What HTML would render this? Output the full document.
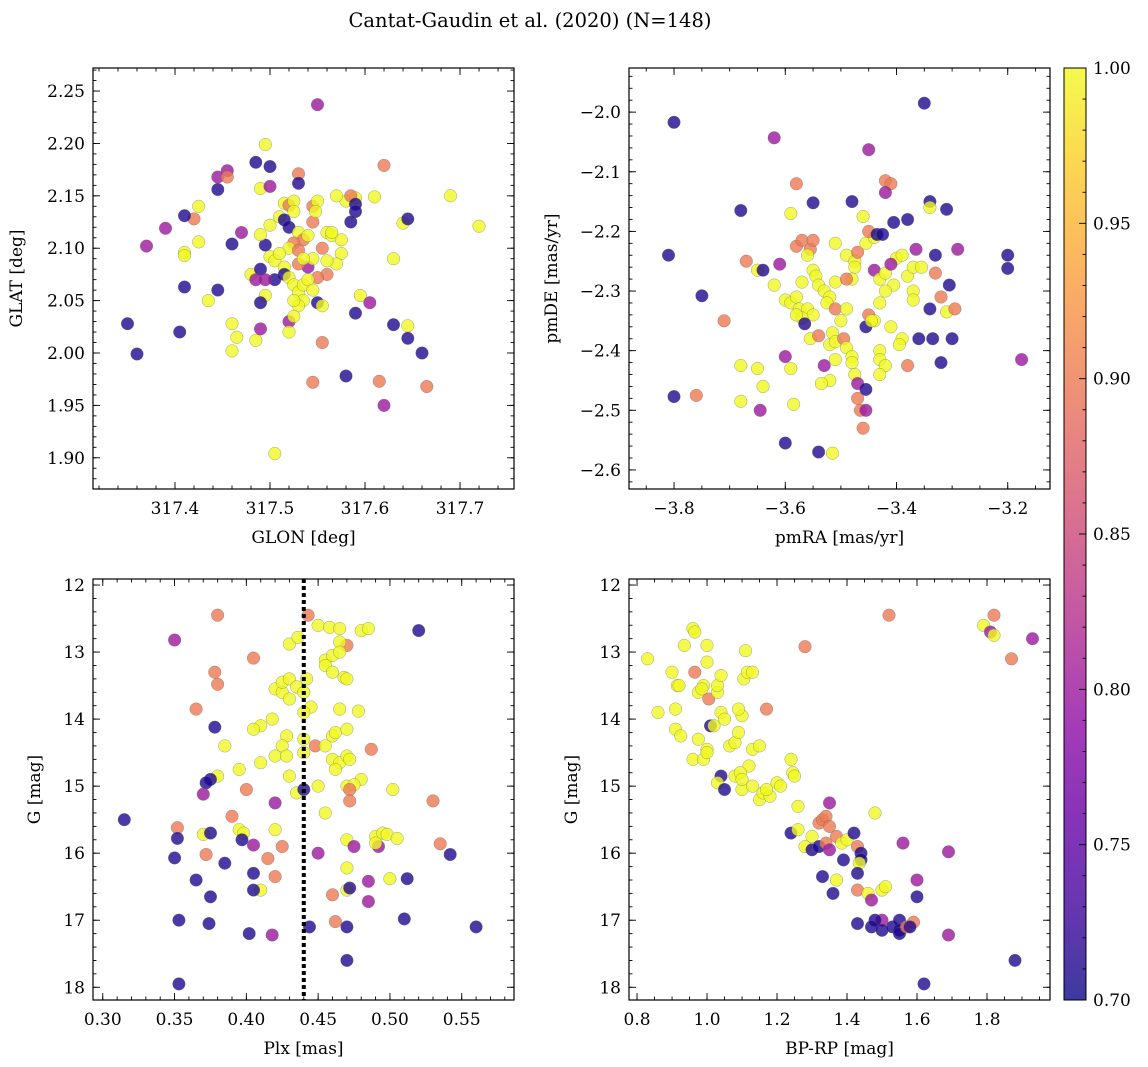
<!DOCTYPE html>
<html><head><meta charset="utf-8">
<style>
html,body{margin:0;padding:0;background:#fff;}
svg{display:block;font-family:"DejaVu Serif","Liberation Serif",serif;}
</style></head>
<body>
<svg id="fig" xmlns="http://www.w3.org/2000/svg" width="1148" height="1067" viewBox="0 0 1148 1067">
<text x="530" y="27" text-anchor="middle" font-size="19.5">Cantat-Gaudin et al. (2020) (N=148)</text>
</svg>
<script>
// ---- data: [x, y, membership probability] ----
const glonGlat = [
[317.55,2.237,0.80],[317.495,2.199,1.00],[317.485,2.182,0.71],[317.50,2.178,0.71],[317.455,2.174,0.80],[317.445,2.168,0.80],[317.455,2.168,0.90],
[317.62,2.179,0.90],[317.53,2.171,0.90],[317.49,2.157,1.00],[317.50,2.159,0.80],[317.445,2.156,0.71],[317.53,2.162,0.71],
[317.425,2.140,1.00],[317.42,2.128,0.90],[317.41,2.131,0.71],[317.39,2.119,0.80],[317.37,2.102,0.80],[317.41,2.096,1.00],[317.41,2.093,1.00],[317.425,2.106,1.00],
[317.46,2.104,0.71],[317.47,2.115,0.80],[317.48,2.075,1.00],[317.49,2.080,0.71],[317.495,2.103,0.71],[317.49,2.113,1.00],[317.50,2.122,1.00],[317.51,2.130,1.00],
[317.515,2.143,1.00],[317.52,2.141,0.90],[317.525,2.145,1.00],[317.525,2.135,1.00],[317.515,2.127,0.71],[317.52,2.120,0.71],[317.53,2.115,1.00],[317.535,2.108,0.90],
[317.525,2.105,0.90],[317.52,2.100,1.00],[317.53,2.098,0.90],[317.54,2.112,1.00],[317.545,2.125,0.90],[317.545,2.140,0.90],[317.55,2.145,1.00],[317.548,2.135,1.00],
[317.555,2.100,0.90],[317.56,2.115,1.00],[317.565,2.112,1.00],[317.575,2.108,1.00],[317.575,2.095,1.00],[317.57,2.085,1.00],[317.56,2.088,1.00],[317.56,2.075,0.90],[317.55,2.072,0.90],
[317.50,2.092,1.00],[317.505,2.088,1.00],[317.51,2.095,1.00],[317.515,2.082,1.00],[317.515,2.075,0.71],[317.52,2.072,1.00],[317.525,2.065,1.00],[317.53,2.058,1.00],
[317.535,2.065,1.00],[317.54,2.070,1.00],[317.545,2.060,1.00],[317.535,2.050,1.00],[317.53,2.045,1.00],[317.525,2.050,1.00],[317.55,2.048,0.71],[317.54,2.082,0.80],
[317.545,2.090,1.00],[317.53,2.085,0.90],[317.535,2.090,1.00],[317.505,2.070,0.71],[317.495,2.070,0.80],[317.495,2.055,1.00],[317.49,2.048,0.71],[317.485,2.070,0.80],
[317.58,2.145,1.00],[317.59,2.148,1.00],[317.585,2.150,0.90],[317.59,2.142,0.71],[317.59,2.135,0.71],[317.585,2.125,0.71],[317.57,2.150,1.00],[317.565,2.115,1.00],
[317.61,2.149,1.00],[317.64,2.124,1.00],[317.645,2.128,0.71],[317.69,2.150,1.00],[317.72,2.121,1.00],[317.63,2.090,1.00],[317.595,2.055,1.00],[317.605,2.048,0.80],
[317.59,2.038,0.71],[317.555,2.045,1.00],[317.435,2.050,1.00],[317.445,2.060,0.71],[317.41,2.063,0.71],[317.405,2.020,0.71],[317.35,2.028,0.71],[317.36,1.999,0.71],
[317.46,2.028,1.00],[317.46,2.002,1.00],[317.465,2.015,1.00],[317.485,2.012,1.00],[317.49,2.023,0.80],[317.52,2.030,0.80],[317.525,2.035,1.00],[317.52,2.020,1.00],
[317.555,2.010,0.90],[317.63,2.027,0.71],[317.645,2.026,1.00],[317.645,2.014,0.71],[317.66,2.000,0.71],[317.58,1.978,0.71],[317.545,1.972,0.90],[317.615,1.973,0.90],
[317.665,1.968,0.90],[317.62,1.950,0.80],[317.505,1.904,1.00]
];
const pmraPmde = [
[-3.35,-1.985,0.71],[-3.80,-2.017,0.71],[-3.62,-2.043,0.80],[-3.45,-2.063,0.80],[-3.58,-2.12,0.90],[-3.55,-2.152,0.71],[-3.42,-2.115,0.90],[-3.41,-2.12,0.90],
[-3.42,-2.135,0.80],[-3.34,-2.15,0.71],[-3.34,-2.16,1.00],[-3.31,-2.163,0.71],[-3.48,-2.15,0.71],[-3.46,-2.175,1.00],[-3.68,-2.165,0.71],[-3.59,-2.17,1.00],
[-3.405,-2.185,0.71],[-3.38,-2.18,0.71],[-3.81,-2.24,0.71],[-3.75,-2.308,0.71],[-3.80,-2.477,0.71],[-3.76,-2.475,0.90],[-3.71,-2.35,0.90],[-3.67,-2.25,0.90],
[-3.65,-2.265,1.00],[-3.64,-2.265,0.71],[-3.61,-2.255,0.80],[-3.62,-2.29,1.00],[-3.60,-2.315,1.00],[-3.59,-2.32,1.00],[-3.58,-2.225,0.90],[-3.57,-2.215,0.90],
[-3.555,-2.23,0.90],[-3.55,-2.215,0.90],[-3.56,-2.24,1.00],[-3.55,-2.265,1.00],[-3.545,-2.275,1.00],[-3.54,-2.29,1.00],[-3.57,-2.285,1.00],[-3.58,-2.31,1.00],
[-3.575,-2.33,1.00],[-3.56,-2.33,1.00],[-3.55,-2.34,1.00],[-3.57,-2.345,1.00],[-3.58,-2.34,1.00],[-3.565,-2.355,0.71],[-3.555,-2.38,1.00],[-3.53,-2.30,1.00],
[-3.52,-2.31,1.00],[-3.51,-2.285,1.00],[-3.525,-2.32,1.00],[-3.54,-2.375,0.90],[-3.51,-2.33,0.90],[-3.49,-2.33,1.00],[-3.50,-2.35,1.00],[-3.515,-2.37,1.00],
[-3.52,-2.39,1.00],[-3.51,-2.385,1.00],[-3.495,-2.38,0.90],[-3.49,-2.395,1.00],[-3.48,-2.41,1.00],[-3.48,-2.42,1.00],[-3.475,-2.44,1.00],[-3.47,-2.455,0.80],
[-3.47,-2.48,0.90],[-3.465,-2.50,0.90],[-3.46,-2.53,0.90],[-3.51,-2.415,1.00],[-3.52,-2.45,1.00],[-3.535,-2.455,1.00],[-3.51,-2.22,1.00],[-3.49,-2.24,1.00],
[-3.475,-2.25,1.00],[-3.47,-2.235,0.90],[-3.455,-2.22,1.00],[-3.44,-2.21,1.00],[-3.45,-2.20,0.90],[-3.435,-2.205,0.71],[-3.425,-2.205,0.71],[-3.475,-2.26,1.00],
[-3.48,-2.28,1.00],[-3.49,-2.28,0.90],[-3.44,-2.265,0.80],[-3.43,-2.28,1.00],[-3.42,-2.27,1.00],[-3.40,-2.245,1.00],[-3.39,-2.24,1.00],[-3.41,-2.255,0.80],
[-3.405,-2.29,1.00],[-3.42,-2.30,1.00],[-3.43,-2.32,1.00],[-3.45,-2.34,0.90],[-3.44,-2.35,1.00],[-3.455,-2.36,0.71],[-3.445,-2.35,1.00],[-3.41,-2.36,1.00],
[-3.43,-2.40,1.00],[-3.43,-2.415,1.00],[-3.42,-2.425,1.00],[-3.43,-2.44,1.00],[-3.455,-2.465,0.71],[-3.455,-2.50,0.80],[-3.38,-2.275,1.00],[-3.37,-2.30,1.00],
[-3.37,-2.26,1.00],[-3.355,-2.26,1.00],[-3.365,-2.23,0.80],[-3.37,-2.315,1.00],[-3.39,-2.38,1.00],[-3.395,-2.39,1.00],[-3.36,-2.38,0.71],[-3.335,-2.38,0.71],
[-3.38,-2.425,0.90],[-3.34,-2.33,0.71],[-3.33,-2.27,0.90],[-3.32,-2.31,0.90],[-3.31,-2.335,1.00],[-3.305,-2.29,0.71],[-3.29,-2.23,0.80],[-3.295,-2.33,0.90],
[-3.33,-2.24,0.71],[-3.32,-2.42,0.71],[-3.30,-2.38,0.71],[-3.20,-2.24,0.71],[-3.20,-2.262,0.71],[-3.175,-2.415,0.80],[-3.68,-2.425,1.00],[-3.68,-2.485,1.00],
[-3.65,-2.43,1.00],[-3.64,-2.46,1.00],[-3.645,-2.50,0.80],[-3.60,-2.41,0.80],[-3.59,-2.43,1.00],[-3.585,-2.49,1.00],[-3.60,-2.555,0.71],[-3.54,-2.57,0.71],
[-3.515,-2.572,1.00],[-3.53,-2.425,0.80]
];
const plxG = [
[0.38,12.45,0.90],[0.35,12.82,0.80],[0.443,12.45,0.90],[0.45,12.6,1.00],[0.458,12.63,1.00],[0.465,12.65,1.00],[0.48,12.68,1.00],[0.485,12.65,1.00],[0.52,12.68,0.71],
[0.47,12.9,0.90],[0.465,12.85,1.00],[0.43,12.88,1.00],[0.436,12.78,1.00],[0.405,13.09,0.90],
[0.365,13.85,0.90],[0.378,13.3,0.90],[0.38,13.48,0.90],[0.42,13.55,1.00],[0.425,13.6,1.00],[0.425,13.45,1.00],[0.43,13.4,1.00],[0.435,13.52,1.00],[0.44,13.6,1.00],
[0.442,13.4,1.00],[0.455,13.12,1.00],[0.455,13.2,1.00],[0.46,13.3,1.00],[0.46,13.05,1.00],[0.465,13.0,1.00],[0.468,13.38,1.00],[0.47,13.4,1.00],[0.445,13.82,1.00],
[0.465,13.85,1.00],[0.43,13.7,1.00],[0.418,14.0,1.00],[0.41,14.1,1.00],[0.405,14.15,1.00],[0.378,14.12,0.71],[0.44,13.9,1.00],[0.44,14.3,1.00],
[0.428,14.25,1.00],[0.425,14.4,1.00],[0.42,14.55,1.00],[0.428,14.55,1.00],[0.44,14.5,1.00],[0.448,14.4,0.90],[0.455,14.4,1.00],[0.46,14.25,1.00],[0.462,14.2,1.00],
[0.47,14.15,1.00],[0.478,13.88,1.00],[0.385,14.4,1.00],[0.395,14.75,1.00],[0.41,14.65,1.00],[0.43,14.85,1.00],[0.45,15.0,1.00],[0.46,14.6,1.00],[0.465,14.65,1.00],
[0.462,14.75,1.00],[0.47,14.55,1.00],[0.472,14.6,1.00],[0.48,14.9,1.00],[0.47,15.0,1.00],[0.475,14.98,1.00],[0.472,15.05,0.90],[0.487,14.45,0.90],[0.38,14.85,1.00],
[0.375,14.9,0.71],[0.372,14.95,0.71],[0.37,15.12,0.80],[0.40,15.05,0.90],[0.42,15.25,0.80],[0.435,15.1,1.00],[0.44,15.05,0.71],[0.455,15.4,1.00],[0.472,15.22,0.90],
[0.502,15.05,1.00],[0.53,15.22,0.90],[0.352,15.62,0.90],[0.315,15.5,0.71],[0.352,15.78,0.71],[0.37,15.72,1.00],[0.372,16.02,0.90],[0.375,15.7,0.71],[0.39,15.45,0.90],
[0.395,15.65,1.00],[0.398,15.7,1.00],[0.397,15.8,0.71],[0.405,15.88,0.80],[0.42,15.65,1.00],[0.425,15.9,0.90],[0.415,16.08,0.90],[0.385,16.15,0.71],
[0.365,16.4,0.71],[0.35,16.07,0.71],[0.45,16.0,0.80],[0.47,15.8,1.00],[0.475,15.9,0.80],[0.49,15.75,1.00],[0.492,15.9,0.80],[0.495,15.7,1.00],[0.49,15.85,1.00],
[0.498,15.72,1.00],[0.505,15.78,1.00],[0.535,15.86,0.90],[0.542,16.02,0.71],[0.47,16.22,1.00],[0.485,16.42,0.80],[0.47,16.55,1.00],[0.46,16.62,0.90],
[0.485,16.72,0.80],[0.50,16.38,1.00],[0.512,16.38,0.71],[0.472,16.52,0.71],[0.41,16.55,1.00],[0.405,16.55,0.71],[0.405,16.3,0.71],[0.42,16.35,0.90],[0.375,16.65,0.71],
[0.353,17.0,0.71],[0.374,17.05,0.71],[0.402,17.2,0.71],[0.418,17.22,0.80],[0.444,17.1,0.71],[0.462,17.02,0.90],[0.47,17.1,0.71],[0.51,16.98,0.71],[0.56,17.1,0.71],
[0.47,17.6,0.71],[0.353,17.95,0.71]
];
const bprpG = [
[0.83,13.1,1.00],[0.86,13.9,1.00],[0.90,13.3,1.00],[0.915,13.5,1.00],[0.92,13.5,1.00],[0.91,13.85,1.00],[0.91,14.15,1.00],[0.925,14.25,1.00],[0.935,12.9,1.00],
[0.96,12.65,1.00],[0.965,12.7,1.00],[0.965,13.3,0.90],[0.96,14.6,1.00],[0.975,13.6,1.00],[0.99,13.5,1.00],[1.0,13.15,1.00],[1.0,12.9,1.00],[0.985,13.55,1.00],
[1.005,13.7,0.90],[1.01,14.1,0.71],[1.02,14.1,1.00],[1.0,14.45,1.00],[0.975,14.3,1.00],[0.99,14.6,1.00],[1.0,14.5,1.00],[1.03,13.6,1.00],[1.03,13.5,1.00],
[1.04,13.35,1.00],[1.04,13.9,1.00],[1.05,14.0,1.00],[1.065,14.4,1.00],[1.08,14.35,1.00],[1.09,14.2,1.00],[1.10,13.95,1.00],[1.09,13.85,1.00],[1.105,13.4,1.00],
[1.115,13.3,1.00],[1.11,12.98,1.00],[1.13,13.3,1.00],[1.17,13.85,0.90],[1.13,14.45,1.00],[1.15,14.4,1.00],[1.12,14.7,1.00],[1.04,14.85,0.71],[1.03,14.95,1.00],
[1.05,15.05,0.71],[1.08,14.85,1.00],[1.095,14.8,1.00],[1.10,15.05,1.00],[1.10,14.9,1.00],[1.13,15.0,1.00],[1.15,15.2,1.00],[1.16,15.1,1.00],[1.18,15.15,1.00],
[1.17,15.05,1.00],[1.20,14.95,1.00],[1.21,15.0,1.00],[1.24,14.6,1.00],[1.245,14.8,1.00],[1.25,14.85,1.00],[1.26,15.3,1.00],[1.28,12.92,0.90],[1.24,15.7,0.71],
[1.26,15.65,1.00],[1.28,15.9,1.00],[1.30,15.75,1.00],[1.30,15.95,0.71],[1.32,15.9,0.71],[1.32,15.55,0.90],[1.33,15.5,0.90],[1.34,15.45,0.90],[1.35,15.6,0.90],
[1.34,15.85,0.90],[1.35,15.95,0.80],[1.37,15.75,0.90],[1.385,15.85,1.00],[1.39,16.1,0.71],[1.40,15.8,1.00],[1.42,15.7,0.71],[1.43,15.9,0.90],[1.44,16.0,0.71],
[1.44,16.1,0.71],[1.435,16.15,1.00],[1.43,16.3,0.71],[1.43,16.55,0.90],[1.46,16.6,1.00],[1.50,16.55,1.00],[1.51,16.5,1.00],[1.47,16.7,0.80],[1.50,17.0,0.80],
[1.48,17.0,0.71],[1.47,17.1,0.71],[1.50,17.15,0.71],[1.53,17.1,0.71],[1.55,17.0,0.71],[1.55,17.15,0.71],[1.55,17.2,0.71],[1.57,17.1,0.90],[1.59,17.03,0.90],
[1.58,17.1,0.71],[1.60,16.65,0.71],[1.60,16.4,0.80],[1.56,15.85,0.80],[1.48,15.4,1.00],[1.35,15.25,0.80],[1.33,16.35,0.71],[1.37,16.4,1.00],[1.36,16.6,0.71],
[1.43,17.05,0.71],[1.62,17.95,0.71],[1.69,15.98,0.80],[1.69,17.22,0.80],[1.88,17.6,0.71],[1.52,12.45,0.90],[1.79,12.6,1.00],[1.81,12.7,0.80],[1.82,12.45,0.90],
[1.82,12.75,1.00],[1.87,13.1,0.90],[1.93,12.8,0.80]
];
const plxMedian = [0.440];
const glonTicks = [317.4,317.5,317.6,317.7];
const glatTicks = [1.90,1.95,2.00,2.05,2.10,2.15,2.20,2.25];
const pmraTicks = [-3.8,-3.6,-3.4,-3.2];
const pmdeTicks = [-2.0,-2.1,-2.2,-2.3,-2.4,-2.5,-2.6];
const plxTicks = [0.30,0.35,0.40,0.45,0.50,0.55];
const gTicks = [12,13,14,15,16,17,18];
const bprpTicks = [0.8,1.0,1.2,1.4,1.6,1.8];
const cbarTicks = [0.70,0.75,0.80,0.85,0.90,0.95,1.00];

const NS = "http://www.w3.org/2000/svg";
const svg = document.getElementById('fig');
const plasma = ["#0d0887","#41049d","#6a00a8","#8f0da4","#b12a90","#cc4778","#e16462","#f2844b","#fca636","#fcce25","#f0f921"];
const FS = 17;
function hex(h){return [parseInt(h.substr(1,2),16),parseInt(h.substr(3,2),16),parseInt(h.substr(5,2),16)];}
function cmap(p){
  let t=(p-0.7)/0.3; t=Math.max(0,Math.min(1,t));
  const f=t*10, i=Math.min(9,Math.floor(f)), r=f-i;
  const a=hex(plasma[i]), b=hex(plasma[i+1]);
  return "rgb("+a.map((v,k)=>Math.round(v+(b[k]-v)*r)).join(",")+")";
}
function mk(tag, attrs, parent){
  const e=document.createElementNS(NS,tag);
  for(const k in attrs) e.setAttribute(k,attrs[k]);
  (parent||svg).appendChild(e); return e;
}
function fmt(v,d){return (v<0?"\u2212":"")+Math.abs(v).toFixed(d);}

function panel(cfg){
  const {name,x0,y0,w,h,xmin,xmax,ymin,ymax,invertY,data,xt,yt,xd,yd,xminor,yminor,xlabel,ylabel} = cfg;
  const g=mk('g',{});
  
  
  const sx=v=>x0+(v-xmin)/(xmax-xmin)*w;
  const sy=v=>invertY? y0+(v-ymin)/(ymax-ymin)*h : y0+h-(v-ymin)/(ymax-ymin)*h;
  const pg=mk('g',{},g);
  
  
  data.forEach(d=>{
    const c=mk('circle',{cx:sx(d[0]).toFixed(1),cy:sy(d[1]).toFixed(1),r:6.3,fill:cmap(d[2]),'fill-opacity':0.8,stroke:'#666','stroke-width':0.5,'stroke-opacity':0.6},pg);
    
    
  });
  if(cfg.vline){
    const l=mk('line',{x1:sx(cfg.vline[0]),x2:sx(cfg.vline[0]),y1:y0,y2:y0+h,stroke:'#000','stroke-width':4,'stroke-dasharray':'4,3'},g);
    
    
  }
  const fr=mk('rect',{x:x0,y:y0,width:w,height:h,fill:'none',stroke:'#000','stroke-width':1.2},g);
  
  
  const tk=mk('g',{stroke:'#000','stroke-width':0.9},g);
  
  
  function xtick(v,len){const X=sx(v); if(X<x0-0.5||X>x0+w+0.5)return;
    mk('line',{x1:X,x2:X,y1:y0+h,y2:y0+h-len},tk); mk('line',{x1:X,x2:X,y1:y0,y2:y0+len},tk);}
  function ytick(v,len){const Y=sy(v); if(Y<y0-0.5||Y>y0+h+0.5)return;
    mk('line',{x1:x0,x2:x0+len,y1:Y,y2:Y},tk); mk('line',{x1:x0+w,x2:x0+w-len,y1:Y,y2:Y},tk);}
  const lo=Math.min(xmin,xmax), hi=Math.max(xmin,xmax);
  for(let k=Math.ceil(lo/xminor-1e-6);k*xminor<=hi+1e-9;k++) xtick(k*xminor,3.5);
  const ylo=Math.min(ymin,ymax), yhi=Math.max(ymin,ymax);
  for(let k=Math.ceil(ylo/yminor-1e-6);k*yminor<=yhi+1e-9;k++) ytick(k*yminor,3.5);
  xt.forEach(v=>{xtick(v,7);
    const t=mk('text',{x:sx(v),y:y0+h+25,'text-anchor':'middle','font-size':FS},g); t.textContent=fmt(v,xd);
     });
  yt.forEach(v=>{ytick(v,7);
    const t=mk('text',{x:x0-8,y:sy(v)+6,'text-anchor':'end','font-size':FS},g); t.textContent=fmt(v,yd);
     });
  const xl=mk('text',{x:x0+w/2,y:y0+h+54,'text-anchor':'middle','font-size':FS},g); xl.textContent=xlabel;
   
  const yx=cfg.ylabelX, yy=y0+h/2;
  const yl=mk('text',{x:yx,y:yy,'text-anchor':'middle','font-size':FS,transform:`rotate(-90 ${yx} ${yy})`},g); yl.textContent=ylabel;
   
}

panel({name:'glon-glat',x0:93,y0:68,w:421,h:421,xmin:317.3137,xmax:317.7568,ymin:1.8702,ymax:2.272,data:glonGlat,
  xt:glonTicks,yt:glatTicks,xd:1,yd:2,xminor:0.02,yminor:0.01,xlabel:'GLON [deg]',ylabel:'GLAT [deg]',ylabelX:22});
panel({name:'pm',x0:629,y0:68,w:421,h:421,xmin:-3.881,xmax:-3.124,ymin:-2.632,ymax:-1.926,data:pmraPmde,
  xt:pmraTicks,yt:pmdeTicks,xd:1,yd:1,xminor:0.05,yminor:0.02,xlabel:'pmRA [mas/yr]',ylabel:'pmDE [mas/yr]',ylabelX:557});
panel({name:'plx-g',x0:93,y0:579,w:421,h:421,xmin:0.2932,xmax:0.5864,ymin:11.91,ymax:18.19,invertY:true,data:plxG,
  xt:plxTicks,yt:gTicks,xd:2,yd:0,xminor:0.01,yminor:0.2,xlabel:'Plx [mas]',ylabel:'G [mag]',ylabelX:40,vline:plxMedian});
panel({name:'cmd',x0:629,y0:579,w:421,h:421,xmin:0.777,xmax:1.98,ymin:11.91,ymax:18.19,invertY:true,data:bprpG,
  xt:bprpTicks,yt:gTicks,xd:1,yd:0,xminor:0.05,yminor:0.2,xlabel:'BP-RP [mag]',ylabel:'G [mag]',ylabelX:577});

const cb=mk('g',{});


const defs=mk('defs',{},cb);
const grad=mk('linearGradient',{id:'cg',x1:0,y1:1,x2:0,y2:0},defs);
for(let i=0;i<=20;i++){const p=0.7+0.3*i/20; mk('stop',{offset:(i/20),'stop-color':cmap(p),'stop-opacity':0.8},grad);}
const cbx=1064, cby=68, cbw=22, cbh=932;
const cr=mk('rect',{x:cbx,y:cby,width:cbw,height:cbh,fill:'url(#cg)',stroke:'#000','stroke-width':1},cb);


const cy=v=>cby+cbh-(v-0.7)/0.3*cbh;
for(let k=70;k<=100;k++){const Y=cy(k/100); mk('line',{x1:cbx+cbw,x2:cbx+cbw-(k%5===0?7:3.5),y1:Y,y2:Y,stroke:'#000','stroke-width':0.9},cb);}
cbarTicks.forEach(v=>{const t=mk('text',{x:cbx+cbw+7,y:cy(v)+6,'font-size':FS},cb); t.textContent=v.toFixed(2);
   });
</script>
</body></html>
